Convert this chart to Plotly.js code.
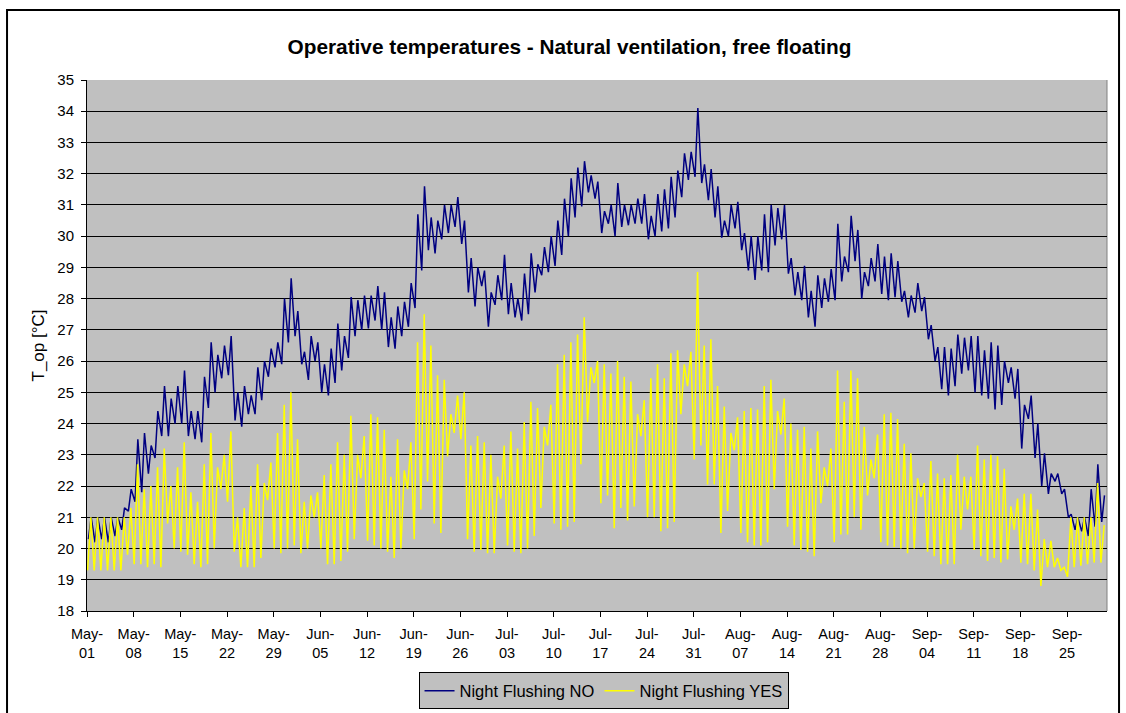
<!DOCTYPE html>
<html><head><meta charset="utf-8">
<script src="https://cdn.plot.ly/plotly-3.0.1.min.js"></script>
<style>html,body{margin:0;padding:0;background:#fff;} #chart{width:1126px;height:713px;}</style>
</head><body><div id="chart"></div>
<script>
// Daily min / max operative temperature (May 1 .. Sep 30)
const blueMin = [20.3,20.2,20.3,20.2,20.4,20.6,21.2,21.5,21.8,22.4,22.9,23.6,23.6,24.0,24.0,23.6,23.5,23.4,24.5,25.0,
25.45,25.55,24.1,23.9,24.3,24.3,24.75,25.5,25.8,25.9,
26.6,26.8,25.9,25.4,26.0,25.0,24.9,25.3,25.7,26.1,
26.8,27.0,27.05,27.3,27.0,26.45,26.4,26.8,27.1,27.7,
28.9,29.55,29.45,29.9,30.1,30.3,29.75,28.2,27.75,28.4,
27.1,27.8,27.95,27.5,27.4,27.3,27.5,28.2,28.75,28.85,
29.05,29.4,30.0,30.6,30.95,31.4,31.2,30.1,30.4,30.0,
30.3,30.35,30.4,30.4,29.9,30.0,30.15,30.25,30.6,31.25,
31.8,31.9,31.7,31.15,30.6,29.95,30.0,30.25,29.55,28.9,
28.6,28.9,28.85,29.7,29.9,28.8,28.1,27.95,27.4,27.1,
27.7,27.9,27.95,28.55,28.85,29.2,28.0,28.4,28.55,28.15,
27.95,28.05,27.9,27.4,27.55,27.6,26.7,26.0,25.1,24.9,
25.2,25.6,25.7,25.0,24.9,24.8,24.45,24.6,25.3,24.8,
23.2,24.15,22.9,22.0,21.75,22.15,21.75,21.0,20.6,20.55,
20.4,20.7,20.85];
const blueMax = [21.0,21.0,21.0,21.0,21.0,21.3,21.9,23.5,23.7,23.3,24.4,25.2,24.8,25.2,25.7,24.4,24.4,25.5,26.6,26.2,
26.5,26.8,25.0,25.2,24.9,25.8,26.0,26.4,26.6,28.0,
28.65,27.6,26.3,26.8,26.6,25.9,26.4,27.2,26.8,28.05,
27.95,28.1,28.1,28.4,28.2,27.4,27.75,27.9,28.5,30.7,
31.6,30.6,30.5,31.0,31.0,31.25,30.5,29.3,29.0,28.9,
28.2,28.75,29.4,28.5,28.0,28.8,29.45,29.1,29.65,30.0,
30.5,31.2,31.85,32.2,32.4,31.95,31.75,30.8,31.0,31.7,
31.0,31.0,31.2,31.35,30.65,31.35,31.5,31.9,32.1,32.65,
32.7,34.1,32.3,32.15,31.6,30.5,31.0,31.1,30.1,30.0,
30.0,30.7,31.0,30.9,31.0,29.3,28.85,29.05,28.25,28.75,
28.65,28.95,30.4,29.35,30.65,30.2,28.85,29.3,29.75,29.35,
29.45,29.2,28.25,28.1,28.5,28.05,27.15,26.45,26.45,26.4,
26.85,26.75,26.8,26.8,26.35,26.6,26.5,26.0,25.8,25.75,
24.6,24.9,24.0,23.05,22.4,22.4,21.9,21.1,21.0,21.0,
21.9,22.7,21.7];
const yellowMin = [19.3,19.3,19.3,19.3,19.3,19.3,19.8,19.5,19.5,19.4,19.5,19.4,20.8,20.0,19.9,19.8,19.5,19.4,19.5,20.0,
21.9,21.5,19.9,19.4,19.4,19.4,19.7,21.55,20.0,19.85,
20.0,20.1,19.85,20.0,21.0,20.0,19.5,19.5,19.6,19.9,
20.3,22.25,20.25,20.1,20.0,19.9,19.7,20.0,21.9,20.3,
21.25,22.15,20.8,20.5,22.95,23.7,23.5,20.3,19.9,19.95,
19.85,19.85,21.6,20.1,19.9,19.85,20.0,20.4,21.3,23.3,
20.8,20.6,20.7,20.85,22.7,24.05,25.3,21.45,21.7,20.65,
21.3,20.9,21.35,23.6,21.0,21.0,20.55,20.65,20.85,24.3,
25.2,22.85,23.3,22.05,22.05,20.5,21.2,23.15,20.5,20.2,
20.1,20.1,20.2,21.9,23.65,20.7,20.1,19.95,19.9,19.75,
21.45,22.0,20.2,20.45,20.45,21.0,20.6,21.7,22.25,20.2,
20.1,20.05,20.0,19.85,20.0,21.65,19.9,19.75,19.5,19.5,
19.5,20.6,21.25,19.95,19.75,19.6,19.7,19.55,19.65,20.6,
19.55,19.5,19.3,18.8,19.4,19.4,19.3,19.1,19.4,19.45,
19.5,19.55,19.55];
const yellowMax = [21.0,21.0,21.0,21.0,21.0,21.0,21.3,22.7,21.9,22.0,22.6,23.2,22.0,22.6,23.4,21.8,21.5,22.7,23.7,22.6,
23.0,23.75,21.0,21.3,22.0,22.7,22.1,22.75,23.7,24.6,
25.0,23.5,21.5,21.7,21.8,22.35,22.7,23.4,23.0,24.25,
23.0,23.6,24.3,24.2,23.8,22.3,23.5,22.5,23.4,26.6,
27.5,26.5,25.55,25.4,24.3,24.9,25.0,23.3,23.6,23.4,
23.0,22.3,23.3,23.75,23.2,24.05,24.7,24.5,23.9,24.6,
25.9,26.2,26.6,26.85,27.4,25.8,26.0,25.9,25.6,26.0,
25.5,25.35,24.3,24.75,25.45,25.9,25.45,26.25,26.35,25.9,
26.3,28.85,26.5,26.7,25.2,24.55,23.7,24.2,24.4,24.5,
24.45,25.2,25.4,24.4,24.8,24.0,23.8,23.9,23.2,23.75,
22.6,23.2,25.7,24.7,25.7,25.45,23.9,22.85,23.65,24.3,
24.35,24.15,23.35,23.05,22.25,22.1,22.8,22.4,22.25,22.35,
23.0,22.3,22.3,23.3,22.85,23.0,22.95,22.55,21.35,21.6,
21.75,21.75,21.25,20.3,20.25,19.7,19.4,21.0,21.0,21.0,
21.0,22.1,20.75];

const tickDates = ['2005-05-01','2005-05-08','2005-05-15','2005-05-22','2005-05-29','2005-06-05','2005-06-12','2005-06-19','2005-06-26',
'2005-07-03','2005-07-10','2005-07-17','2005-07-24','2005-07-31','2005-08-07','2005-08-14','2005-08-21','2005-08-28',
'2005-09-04','2005-09-11','2005-09-18','2005-09-25'];
const tickLabels = ['May-<br>01','May-<br>08','May-<br>15','May-<br>22','May-<br>29','Jun-<br>05','Jun-<br>12','Jun-<br>19','Jun-<br>26',
'Jul-<br>03','Jul-<br>10','Jul-<br>17','Jul-<br>24','Jul-<br>31','Aug-<br>07','Aug-<br>14','Aug-<br>21','Aug-<br>28',
'Sep-<br>04','Sep-<br>11','Sep-<br>18','Sep-<br>25'];
const seriesNames = ['Night Flushing NO','Night Flushing YES'];

function stamp(day, hour){
  const t = Date.UTC(2005,4,1) + (day*24 + hour)*3600000;
  return new Date(t).toISOString().slice(0,16).replace('T',' ');
}
function buildSeries(mins, maxs, hMin, hMax){
  const x=[], y=[];
  for(let d=0; d<mins.length; d++){
    x.push(stamp(d,hMin)); y.push(mins[d]);
    x.push(stamp(d,hMax)); y.push(maxs[d]);
  }
  return {x, y};
}
const b = buildSeries(blueMin, blueMax, 5, 15);
const yl = buildSeries(yellowMin, yellowMax, 2, 14);

const traces = [
  {x:b.x, y:b.y, type:'scatter', mode:'lines', name:seriesNames[0], line:{color:'#000080', width:1.5}},
  {x:yl.x, y:yl.y, type:'scatter', mode:'lines', name:seriesNames[1], line:{color:'#FFFF00', width:1.5}}
];

const layout = {
  width:1126, height:713,
  margin:{l:87, r:19, t:80, b:102, autoexpand:false},
  paper_bgcolor:'#FFFFFF', plot_bgcolor:'#C0C0C0',
  font:{family:'Liberation Sans, Arial, sans-serif', color:'#000000', size:15},
  title:{text:'Operative temperatures - Natural ventilation, free floating', font:{size:20.8, weight:700, color:'#000'},
         xref:'container', x:0.5058, xanchor:'center', yref:'container', y:0.934, yanchor:'middle'},
  showlegend:true,
  legend:{orientation:'h', xref:'container', yref:'container', x:0.536, xanchor:'center', y:0.0309, yanchor:'middle',
          bgcolor:'#C0C0C0', bordercolor:'#000', borderwidth:1, font:{size:16.5}, itemwidth:30, tracegroupgap:0},
  xaxis:{type:'date', range:['2005-05-01','2005-10-01'], tickmode:'array', tickvals:tickDates, ticktext:tickLabels,
         ticks:'outside', ticklen:5, tickcolor:'#000', showgrid:false, showline:true, linecolor:'#000', linewidth:1,
         zeroline:false, tickfont:{size:14.5}, ticklabelstandoff:5},
  yaxis:{range:[18,35], tick0:18, dtick:1, ticks:'outside', ticklen:5, tickcolor:'#000', showgrid:true,
         gridcolor:'#000', gridwidth:1, showline:true, linecolor:'#000', linewidth:1, zeroline:false,
         tickfont:{size:15}, ticklabelstandoff:4, title:{text:'T_op [°C]', font:{size:17}, standoff:8}},
  shapes:[
    {type:'rect', xref:'paper', yref:'paper', x0:-0.0784, x1:1.0118, y0:-0.25, y1:1.1318, line:{color:'#000', width:2}, layer:'below'},
    {type:'line', xref:'paper', yref:'paper', x0:1, x1:1, y0:0, y1:1, line:{color:'#808080', width:1}, layer:'below'}
  ]
};
Plotly.newPlot('chart', traces, layout, {displayModeBar:false, staticPlot:true});
</script>
</body></html>
